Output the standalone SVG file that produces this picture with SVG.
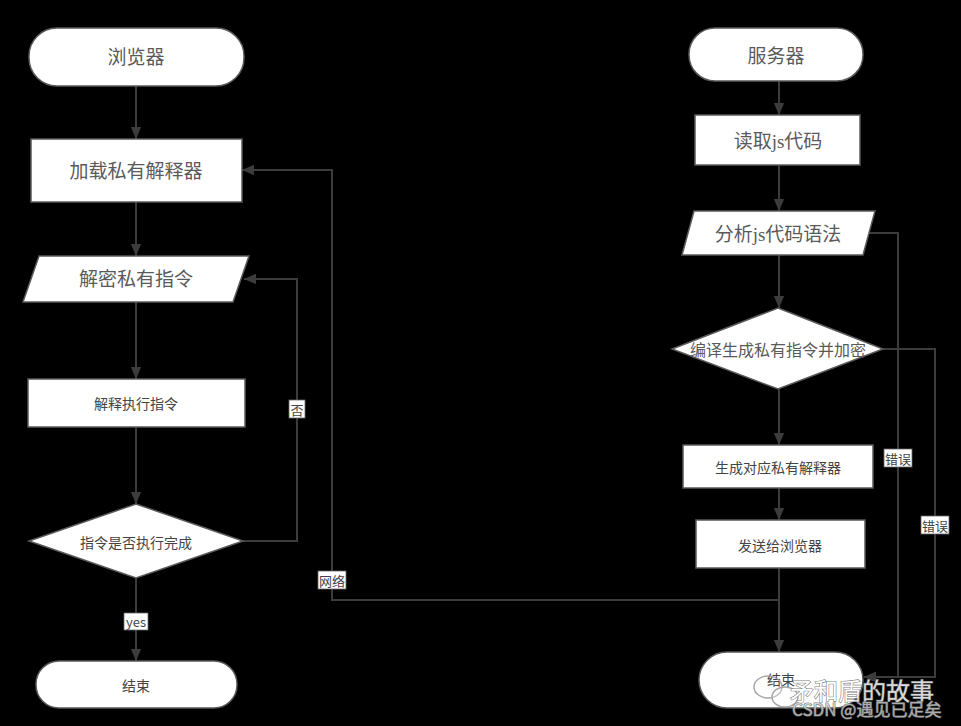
<svg xmlns="http://www.w3.org/2000/svg" width="961" height="726" viewBox="0 0 961 726">
<defs>
<marker id="arr" markerUnits="userSpaceOnUse" markerWidth="12" markerHeight="16" refX="14" refY="6" viewBox="0 0 14 12" orient="auto">
<path d="M0,0 L14,6 L0,12 Z" fill="#3c3c3c"/>
</marker>
<style>
.node{fill:#ffffff;stroke:#5a5a5a;stroke-width:1.5}
.serif{font-family:"Liberation Serif","Noto Sans CJK SC",serif;fill:#5a5a5a;text-anchor:middle;dominant-baseline:central}
.sans{font-family:"Noto Sans CJK SC","Liberation Sans",sans-serif;fill:#444444;text-anchor:middle;dominant-baseline:central;font-size:14px}
.edge{fill:none;stroke:#3c3c3c;stroke-width:2}
.lblbg{fill:#ffffff;stroke:#666666;stroke-width:0.8}
.lbl{font-family:"Noto Sans CJK SC","Liberation Sans",sans-serif;fill:#444444;font-size:13px;text-anchor:middle;dominant-baseline:central}
.wm{font-family:"Noto Sans CJK SC","Liberation Sans",sans-serif;paint-order:stroke;stroke:#6a6a6a;stroke-width:1.2}
</style>
</defs>
<rect x="0" y="0" width="961" height="726" fill="#000000"/>

<g id="connectors">
<path class="edge" d="M136,86 V139" marker-end="url(#arr)"/>
<path class="edge" d="M136,202 V256" marker-end="url(#arr)"/>
<path class="edge" d="M136,302 V379" marker-end="url(#arr)"/>
<path class="edge" d="M136,427 V504" marker-end="url(#arr)"/>
<path class="edge" d="M136,578 V661" marker-end="url(#arr)"/>
<path class="edge" d="M243,541 H297 V279 H244" marker-end="url(#arr)"/>
<path class="edge" d="M779,81 V115" marker-end="url(#arr)"/>
<path class="edge" d="M779,165 V211" marker-end="url(#arr)"/>
<path class="edge" d="M779,255 V308" marker-end="url(#arr)"/>
<path class="edge" d="M779,389 V445" marker-end="url(#arr)"/>
<path class="edge" d="M779,488 V520" marker-end="url(#arr)"/>
<path class="edge" d="M779,568 V652" marker-end="url(#arr)"/>
<path class="edge" d="M779,600 H332 V170 H242" marker-end="url(#arr)"/>
<path class="edge" d="M868,233 H898 V677 H864" marker-end="url(#arr)"/>
<path class="edge" d="M883,349 H935 V677 H864" marker-end="url(#arr)"/>
<g id="edge-labels">
<rect class="lblbg" x="289" y="400" width="16" height="18"/>
<text class="lbl" x="297" y="409">否</text>
<rect class="lblbg" x="124" y="613" width="24" height="17"/>
<text class="lbl" x="136" y="621">yes</text>
<rect class="lblbg" x="318" y="571" width="28" height="18"/>
<text class="lbl" x="332" y="580">网络</text>
<rect class="lblbg" x="884" y="449" width="28" height="18"/>
<text class="lbl" x="898" y="458">错误</text>
<rect class="lblbg" x="921" y="516" width="28" height="18"/>
<text class="lbl" x="935" y="525">错误</text>
</g>
</g>

<g id="n-browser">
<rect class="node" x="29" y="28" width="215" height="58" rx="28"/>
<text class="serif" x="136" y="57" font-size="19">浏览器</text>
</g>
<g id="n-load">
<rect class="node" x="31" y="139" width="211" height="63"/>
<text class="serif" x="136" y="171" font-size="19">加载私有解释器</text>
</g>
<g id="n-decrypt">
<polygon class="node" points="39,256 249,256 233,302 23,302"/>
<text class="serif" x="136" y="279" font-size="19">解密私有指令</text>
</g>
<g id="n-exec">
<rect class="node" x="28" y="379" width="217" height="48"/>
<text class="sans" x="136" y="403">解释执行指令</text>
</g>
<g id="n-done">
<polygon class="node" points="136,504 243,541 136,578 29,541"/>
<text class="sans" x="136" y="542">指令是否执行完成</text>
</g>
<g id="n-end-left">
<rect class="node" x="36" y="661" width="201" height="47" rx="23"/>
<text class="sans" x="136" y="685">结束</text>
</g>

<g id="n-server">
<rect class="node" x="689" y="28" width="174" height="53" rx="26"/>
<text class="serif" x="776" y="56" font-size="19">服务器</text>
</g>
<g id="n-read">
<rect class="node" x="695" y="115" width="165" height="50"/>
<text class="serif" x="778" y="141" font-size="19">读取js代码</text>
</g>
<g id="n-parse">
<polygon class="node" points="694,211 875,211 863,255 682,255"/>
<text class="serif" x="778" y="234" font-size="19">分析js代码语法</text>
</g>
<g id="n-compile">
<polygon class="node" points="778,308 883,349 778,389 672,349"/>
<text class="serif" x="778" y="350" font-size="16">编译生成私有指令并加密</text>
</g>
<g id="n-gen">
<rect class="node" x="683" y="445" width="190" height="43"/>
<text class="sans" x="778" y="467">生成对应私有解释器</text>
</g>
<g id="n-send">
<rect class="node" x="696" y="520" width="169" height="48"/>
<text class="sans" x="780" y="545">发送给浏览器</text>
</g>
<g id="n-end-right">
<rect class="node" x="699" y="652" width="164" height="56" rx="28"/>
<text class="sans" x="781" y="679">结束</text>
</g>

<g id="watermark" opacity="0.85">
<ellipse cx="768" cy="687" rx="14" ry="11" fill="none" stroke="#999999" stroke-width="1.5"/>
<ellipse cx="785" cy="697" rx="13" ry="10" fill="#ffffff" fill-opacity="0.3" stroke="#999999" stroke-width="1.5"/>
<text class="wm" x="790" y="700" font-size="24" fill="#ffffff">矛和盾的故事</text>
<text class="wm" x="792" y="716" font-size="17" fill="#cccccc" stroke-width="0.6">CSDN @遇见已足矣</text>
</g>
</svg>
